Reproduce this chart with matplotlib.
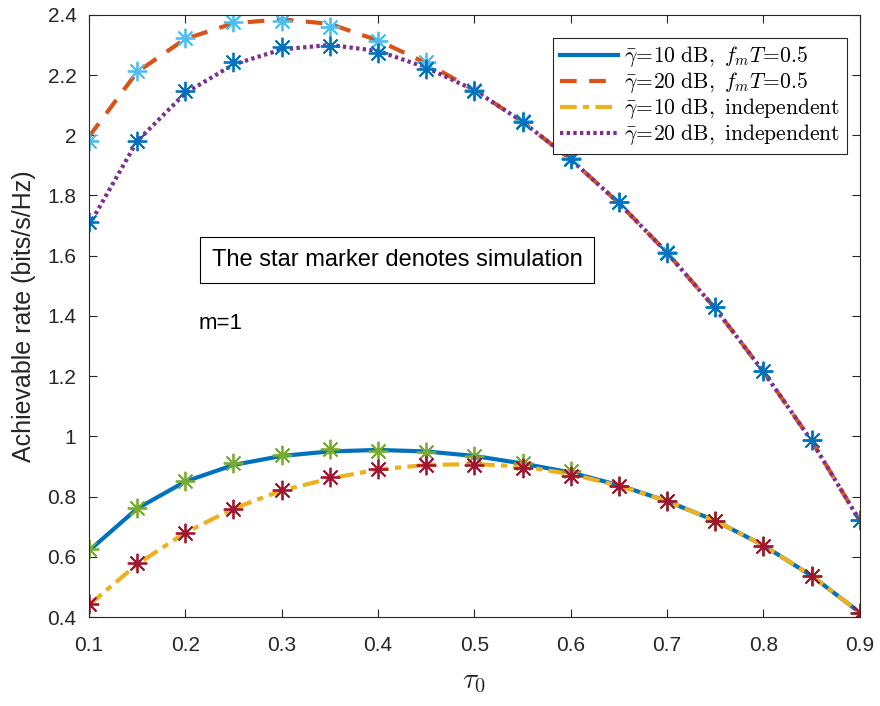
import matplotlib
matplotlib.use("Agg")
import matplotlib.pyplot as plt
import numpy as np

plt.rcParams['font.family'] = ['Liberation Sans', 'DejaVu Sans']
plt.rcParams['mathtext.fontset'] = 'cm'

# tau_0 grid (analytical curves and simulation points share it)
tau = np.round(np.arange(0.1, 0.9001, 0.05), 2)

# analytical curves
ana_10_fmT = [0.62, 0.76, 0.85, 0.905, 0.935, 0.95, 0.955, 0.95, 0.935, 0.91,
              0.88, 0.838, 0.785, 0.72, 0.638, 0.537, 0.415]
ana_20_fmT = [1.995, 2.21, 2.32, 2.372, 2.385, 2.37, 2.315, 2.24, 2.15, 2.045,
              1.92, 1.775, 1.61, 1.425, 1.215, 0.985, 0.72]
ana_10_ind = [0.44, 0.575, 0.68, 0.76, 0.82, 0.86, 0.89, 0.905, 0.908, 0.9,
              0.875, 0.836, 0.785, 0.72, 0.638, 0.537, 0.415]
ana_20_ind = [1.70, 1.98, 2.14, 2.235, 2.285, 2.30, 2.28, 2.225, 2.15, 2.045,
              1.92, 1.775, 1.61, 1.425, 1.215, 0.985, 0.72]

# simulation points (star markers)
sim_10_fmT = [0.626, 0.762, 0.852, 0.912, 0.938, 0.958, 0.951, 0.948, 0.935,
              0.912, 0.885, 0.835, 0.787, 0.72, 0.637, 0.537, 0.414]
sim_20_fmT = [1.981, 2.214, 2.324, 2.377, 2.380, 2.360, 2.314, 2.244, 2.152,
              2.046, 1.924, 1.78, 1.611, 1.43, 1.217, 0.988, 0.722]
sim_10_ind = [0.443, 0.579, 0.679, 0.759, 0.822, 0.865, 0.892, 0.905, 0.905,
              0.895, 0.868, 0.835, 0.785, 0.719, 0.636, 0.536, 0.413]
sim_20_ind = [1.712, 1.981, 2.148, 2.244, 2.294, 2.297, 2.274, 2.221, 2.148,
              2.044, 1.922, 1.779, 1.609, 1.430, 1.217, 0.988, 0.722]

labels = [r'$\bar{\gamma}\!=\!10\ \mathrm{dB},\ f_m T\!=\!0.5$',
          r'$\bar{\gamma}\!=\!20\ \mathrm{dB},\ f_m T\!=\!0.5$',
          r'$\bar{\gamma}\!=\!10\ \mathrm{dB},\ \mathrm{independent}$',
          r'$\bar{\gamma}\!=\!20\ \mathrm{dB},\ \mathrm{independent}$']

fig = plt.figure(figsize=(8.8, 7.06), dpi=100)
ax = fig.add_axes([0.101, 0.126, 0.876, 0.853])

lw = 3
l1, = ax.plot(tau, ana_10_fmT, '-', color='#0072BD', lw=lw)
l2, = ax.plot(tau, ana_20_fmT, color='#D95319', lw=lw, dashes=(4, 3))
l3, = ax.plot(tau, ana_10_ind, color='#EDB120', lw=lw, dashes=(4, 1.5, 1.5, 1.5))
l4, = ax.plot(tau, ana_20_ind, color='#7E2F8E', lw=lw, dashes=(0.8, 0.8))

mk = dict(marker=(8, 2, 0), ms=14, mew=1.3, linestyle='none')
ax.plot(tau, sim_10_fmT, color='#77AC30', **mk)
ax.plot(tau, sim_20_fmT, color='#4DBEEE', **mk)
ax.plot(tau, sim_10_ind, color='#A2142F', **mk)
ax.plot(tau, sim_20_ind, color='#0072BD', **mk)

ax.set_xlim(0.1, 0.9)
ax.set_ylim(0.4, 2.4)
ax.set_xticks(np.arange(0.1, 0.91, 0.1))
ax.set_yticks(np.arange(0.4, 2.41, 0.2))
ax.set_xticklabels(['0.1', '0.2', '0.3', '0.4', '0.5', '0.6', '0.7', '0.8', '0.9'])
ax.set_yticklabels(['0.4', '0.6', '0.8', '1', '1.2', '1.4', '1.6', '1.8', '2', '2.2', '2.4'])
ax.tick_params(direction='in', top=True, right=True, labelsize=15,
               colors='#262626', length=6, width=0.8)
ax.tick_params(axis='x', pad=14)
ax.tick_params(axis='y', pad=9)
for s in ax.spines.values():
    s.set_color('#262626')
    s.set_linewidth(0.8)

ax.set_xlabel(r'$\tau_0$', fontsize=21, color='#262626', labelpad=8)
ax.set_ylabel('Achievable rate (bits/s/Hz)', fontsize=18, color='#262626', labelpad=8)

ax.text(0.42, 1.585, 'The star marker denotes simulation', fontsize=17,
        ha='center', va='center',
        bbox=dict(boxstyle='square,pad=0.5', fc='white', ec='black', lw=0.8))
ax.text(0.214, 1.375, 'm=1', fontsize=16, ha='left', va='center')

leg = ax.legend([l1, l2, l3, l4], labels, loc='upper right', fontsize=15.5,
                bbox_to_anchor=(0.983, 0.962), borderaxespad=0, handlelength=2.7,
                borderpad=0.3, labelspacing=0.05, handletextpad=0.3,
                fancybox=False, framealpha=1, edgecolor='#262626')
leg.get_frame().set_linewidth(0.8)

fig.savefig('out.png', dpi=100)
